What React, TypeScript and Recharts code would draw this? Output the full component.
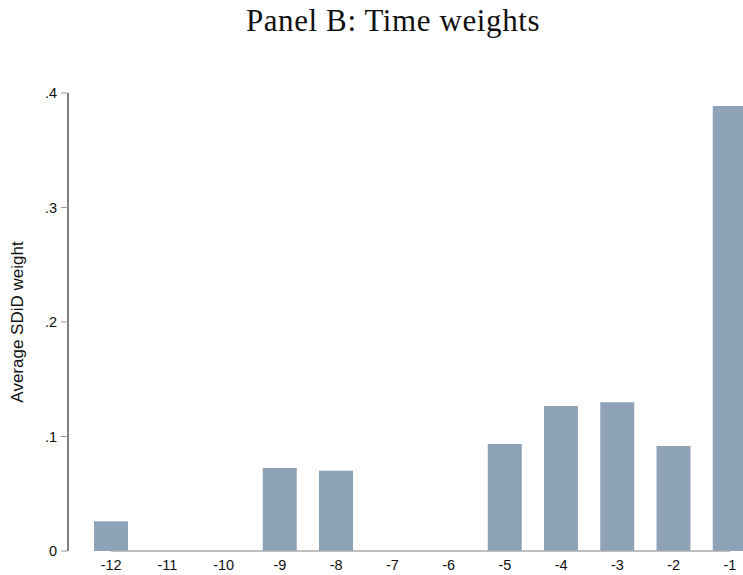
import { BarChart, Bar, XAxis, YAxis, ReferenceLine } from "recharts";

const periods = ["-12", "-11", "-10", "-9", "-8", "-7", "-6", "-5", "-4", "-3", "-2", "-1"];
const weights = [0.026, 0, 0, 0.0725, 0.07, 0, 0, 0.0935, 0.1266, 0.13, 0.0917, 0.3886];
const yTicks = [0, 0.1, 0.2, 0.3, 0.4];
const yTickLabels = ["0", ".1", ".2", ".3", ".4"];

const data = periods.map((p, i) => ({ period: p, weight: weights[i] }));

const BAR = "#8ea3b8";
const SANS = "'Liberation Sans', Arial, sans-serif";

export default function App() {
  return (
    <div
      style={{
        position: "absolute",
        left: 0,
        top: 0,
        width: 743,
        height: 575,
        overflow: "hidden",
        background: "#fff",
      }}
    >
      <div
        style={{
          position: "absolute",
          top: 3,
          left: 0,
          width: 786,
          textAlign: "center",
          fontFamily: "'Liberation Serif', 'Times New Roman', serif",
          fontSize: 31,
          letterSpacing: 0.6,
          color: "#111",
        }}
      >
        Panel B: Time weights
      </div>
      <BarChart
        width={758}
        height={575}
        data={data}
        margin={{ top: 93, right: 0, bottom: 0, left: 0 }}
        barCategoryGap={0}
      >
        <XAxis
          dataKey="period"
          axisLine={false}
          tickLine={false}
          height={24}
          padding={{ left: 15, right: 0 }}
          tick={{ fontSize: 14.5, fill: "#111", fontFamily: SANS }}
          tickMargin={3}
          interval={0}
        />
        <YAxis
          width={68}
          domain={[0, 0.4]}
          ticks={yTicks}
          tickFormatter={(v: number) => yTickLabels[yTicks.indexOf(v)] ?? String(v)}
          axisLine={{ stroke: "#000", strokeWidth: 1 }}
          tickLine={{ stroke: "#999" }}
          tickSize={7}
          tickMargin={4}
          tick={{ fontSize: 14.5, fill: "#111", fontFamily: SANS }}
          label={{
            value: "Average SDiD weight",
            angle: -90,
            position: "insideLeft",
            offset: 17,
            style: { fontSize: 17, fill: "#111", fontFamily: SANS, textAnchor: "middle" },
          }}
        />
        <ReferenceLine
          segment={[
            { x: "-12", y: 0 },
            { x: "-1", y: 0 },
          ]}
          stroke="#aaa"
          strokeWidth={1.5}
          ifOverflow="visible"
        />
        <Bar dataKey="weight" fill={BAR} barSize={34} isAnimationActive={false} />
      </BarChart>
    </div>
  );
}
